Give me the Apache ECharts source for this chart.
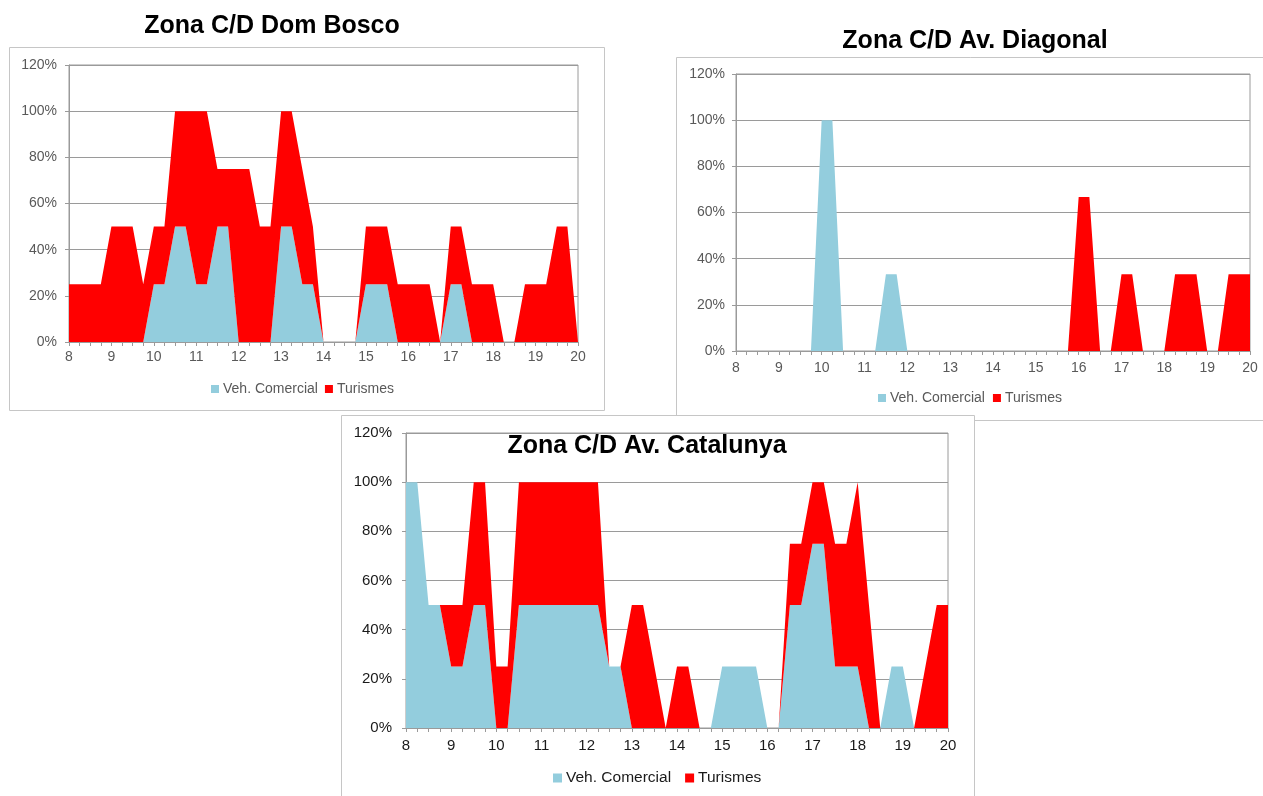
<!DOCTYPE html>
<html>
<head>
<meta charset="utf-8">
<script src="https://cdn.jsdelivr.net/npm/echarts@6/dist/echarts.min.js"></script>
<style>
html,body{margin:0;padding:0;background:#fff;}
#chart{width:1263px;height:796px;}
</style>
</head>
<body>
<div id="chart"></div>
<script>
// ---- Data ----
const hourLabels = ['8','9','10','11','12','13','14','15','16','17','18','19','20'];
const seriesNames = ['Veh. Comercial', 'Turismes'];
const chartTitles = ['Zona C/D Dom Bosco', 'Zona C/D Av. Diagonal', 'Zona C/D Av. Catalunya'];

const domBoscoVeh = [0,0,0,0, 0,0,0,0, 25,25,50,50, 25,25,50,50, 0,0,0,0, 50,50,25,25, 0,0,0,0, 25,25,25,0, 0,0,0,0, 25,25,0,0, 0,0,0,0, 0,0,0,0, 0];
const domBoscoTur = [25,25,25,25, 50,50,50,25, 25,25,50,50, 75,75,25,25, 75,75,50,50, 50,50,50,25, 0,0,0,0, 25,25,25,25, 25,25,25,0, 25,25,25,25, 25,0,0,25, 25,25,50,50, 0];

const diagonalVeh = [0,0,0,0, 0,0,0,0, 100,100,0,0, 0,0,33.3,33.3, 0,0,0,0, 0,0,0,0, 0,0,0,0, 0,0,0,0, 0,0,0,0, 0,0,0,0, 0,0,0,0, 0,0,0,0, 0];
const diagonalTur = [0,0,0,0, 0,0,0,0, 0,0,0,0, 0,0,0,0, 0,0,0,0, 0,0,0,0, 0,0,0,0, 0,0,0,0, 66.7,66.7,0,0, 33.3,33.3,0,0, 0,33.3,33.3,33.3, 0,0,33.3,33.3, 33.3];

const catalunyaVeh = [100,100,50,50, 25,25,50,50, 0,0,50,50, 50,50,50,50, 50,50,25,25, 0,0,0,0, 0,0,0,0, 25,25,25,25, 0,0,50,50, 75,75,25,25, 25,0,0,25, 25,0,0,0, 0];
const catalunyaTur = [0,0,0,0, 25,25,50,50, 25,25,50,50, 50,50,50,50, 50,50,0,0, 50,50,25,0, 25,25,0,0, 0,0,0,0, 0,0,25,25, 25,25,50,50, 75,50,0,0, 0,0,25,50, 50];

// categories: every 15 minutes from 8:00 to 20:00
const categories = [];
for (let h = 8; h < 20; h++) {
  for (let q = 0; q < 4; q++) categories.push(h + ':' + (q === 0 ? '00' : String(q * 15)));
}
categories.push('20:00');

const BLUE = '#93CDDD', RED = '#FF0000';
const GRID_C = '#9a9a9a';
const FONT = "'Liberation Sans', Arial, sans-serif";

const panels = [
  { grid: {left: 69, top: 65, width: 509, height: 277}, veh: domBoscoVeh, tur: domBoscoTur,
    fs: 14, col: '#595959', ymargin: 12, xmargin: 8,
    legend: {left: 211, top: 382, iw: 8, fs: 14, col: '#595959', gap: 7} },
  { grid: {left: 736, top: 74, width: 514, height: 277}, veh: diagonalVeh, tur: diagonalTur,
    fs: 14, col: '#595959', ymargin: 11, xmargin: 10,
    legend: {left: 878, top: 391, iw: 8, fs: 14, col: '#595959', gap: 8} },
  { grid: {left: 406, top: 433, width: 542, height: 295}, veh: catalunyaVeh, tur: catalunyaTur,
    fs: 15, col: '#1a1a1a', ymargin: 14, xmargin: 10,
    legend: {left: 553, top: 770, iw: 9, fs: 15.5, col: '#1a1a1a', gap: 14} }
];

const option = {
  animation: false,
  grid: [], xAxis: [], yAxis: [], series: [], legend: [],
  graphic: { elements: [
    { type: 'rect', z: -10, shape: {x: 9.5, y: 47.5, width: 595, height: 363}, style: {fill: '#fff', stroke: '#c6c6c6', lineWidth: 1} },
    { type: 'rect', z: -10, shape: {x: 676.5, y: 57.5, width: 620, height: 363}, style: {fill: '#fff', stroke: '#c6c6c6', lineWidth: 1} },
    { type: 'rect', z: -10, shape: {x: 341.5, y: 415.5, width: 633, height: 420}, style: {fill: '#fff', stroke: '#c6c6c6', lineWidth: 1} },
    { type: 'text', z: 100, x: 272, y: 26, style: {text: chartTitles[0], fill: '#000', font: "bold 25px " + FONT, textAlign: 'center', textVerticalAlign: 'middle'} },
    { type: 'text', z: 100, x: 975, y: 41, style: {text: chartTitles[1], fill: '#000', font: "bold 25px " + FONT, textAlign: 'center', textVerticalAlign: 'middle'} },
    { type: 'text', z: 100, x: 647, y: 446, style: {text: chartTitles[2], fill: '#000', font: "bold 25px " + FONT, textAlign: 'center', textVerticalAlign: 'middle'} }
  ]}
};

panels.forEach((p, i) => {
  option.grid.push(Object.assign({show: true, borderColor: GRID_C, borderWidth: 1, backgroundColor: 'transparent'}, p.grid));
  option.xAxis.push({
    type: 'category', gridIndex: i, data: categories, boundaryGap: false,
    axisLine: {lineStyle: {color: GRID_C}},
    axisTick: {show: true, interval: 0, length: 4, lineStyle: {color: GRID_C}},
    axisLabel: {interval: 3, margin: p.xmargin, color: p.col, fontSize: p.fs, fontFamily: FONT,
      formatter: (v, idx) => hourLabels[Math.round(idx / 4)]},
    splitLine: {show: false}
  });
  option.yAxis.push({
    type: 'value', gridIndex: i, min: 0, max: 120, interval: 20,
    axisLine: {show: true, lineStyle: {color: GRID_C}},
    axisTick: {show: true, length: 4, lineStyle: {color: GRID_C}},
    axisLabel: {formatter: '{value}%', margin: p.ymargin, color: p.col, fontSize: p.fs, fontFamily: FONT},
    splitLine: {show: true, lineStyle: {color: GRID_C, width: 1}}
  });
  const st = 'stack' + i;
  option.series.push({
    name: seriesNames[0], type: 'line', xAxisIndex: i, yAxisIndex: i, stack: st,
    data: p.veh, showSymbol: false, symbol: 'none', smooth: false,
    lineStyle: {width: 0, opacity: 0}, itemStyle: {color: BLUE},
    areaStyle: {color: BLUE, opacity: 1}, emphasis: {disabled: true}, z: 2
  });
  option.series.push({
    name: seriesNames[1], type: 'line', xAxisIndex: i, yAxisIndex: i, stack: st,
    data: p.tur, showSymbol: false, symbol: 'none', smooth: false,
    lineStyle: {width: 0, opacity: 0}, itemStyle: {color: RED},
    areaStyle: {color: RED, opacity: 1}, emphasis: {disabled: true}, z: 2
  });
  const L = p.legend;
  option.legend.push({
    data: seriesNames.map(n => ({name: n, icon: 'rect'})),
    left: L.left, top: L.top, orient: 'horizontal',
    itemWidth: L.iw, itemHeight: L.iw, itemGap: L.gap,
    textStyle: {color: L.col, fontSize: L.fs, fontFamily: FONT, padding: [0, 0, 0, -1]},
    selectedMode: false, padding: 0
  });
});

const chart = echarts.init(document.getElementById('chart'), null, {renderer: 'canvas'});
chart.setOption(option);
</script>
</body>
</html>
